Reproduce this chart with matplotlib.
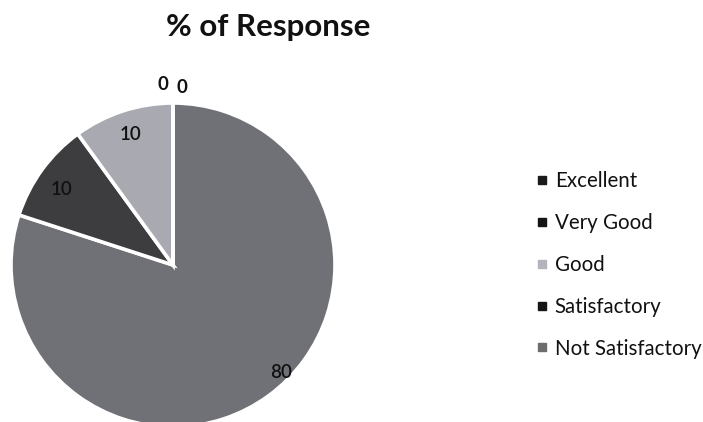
import matplotlib
matplotlib.use("Agg")
import matplotlib.pyplot as plt
from matplotlib.lines import Line2D
import numpy as np

categories = ["Excellent", "Very Good", "Good", "Satisfactory", "Not Satisfactory"]
values = [80, 10, 10, 0, 0]
slice_colors = ["#707176", "#3d3d40", "#a9a9b1", "#2a2a2c", "#6a6a6e"]
legend_colors = ["#1a1a1a", "#141414", "#b4b4bc", "#151515", "#6d6d70"]
title = "% of Response"

# label placement style: (radius, angle offset in degrees)
label_style = [(0.94, 9), (0.83, 2), (0.845, 0), (1.115, 3.2), (1.10, -3.0)]

W, H = 703, 422
fig = plt.figure(figsize=(W / 100, H / 100), dpi=100)
ax = fig.add_axes([0, 0, 1, 1])
R = 162.0
cx, cy = 173.0, 265.0

wedges, _ = ax.pie(values, colors=slice_colors, startangle=90, counterclock=False,
                   radius=1.0, center=(0, 0),
                   wedgeprops=dict(edgecolor="white", linewidth=2.6))
ax.set_xlim(-cx / R, (W - cx) / R)
ax.set_ylim(-(H - cy) / R, cy / R)
ax.set_aspect("auto")
ax.axis("off")

font = ["Lato", "DejaVu Sans"]
for w, v, (r, off) in zip(wedges, values, label_style):
    ang = np.deg2rad((w.theta1 + w.theta2) / 2 + off)
    ax.text(r * np.cos(ang), r * np.sin(ang), f"{v}", ha="center", va="center",
            fontsize=13.5, color="#111111", family=font,
            fontweight="bold" if v == 0 else "semibold")

fig.text(268 / W, 1 - 27 / H, title, ha="center", va="center",
         fontsize=22.5, fontweight="bold", family=font, color="#111111")

handles = [Line2D([], [], marker="s", linestyle="none", markersize=6,
                  markerfacecolor=c, markeredgecolor=c) for c in legend_colors]
leg = fig.legend(handles, categories, loc="center left",
                 bbox_to_anchor=(527 / W, 1 - 265 / H), frameon=False,
                 prop=dict(family=font, size=14.8), labelspacing=1.06,
                 handletextpad=0.25, handlelength=0.7, borderaxespad=0)
for t in leg.get_texts():
    t.set_color("#111111")

fig.savefig("out.png", dpi=100, facecolor="white")
